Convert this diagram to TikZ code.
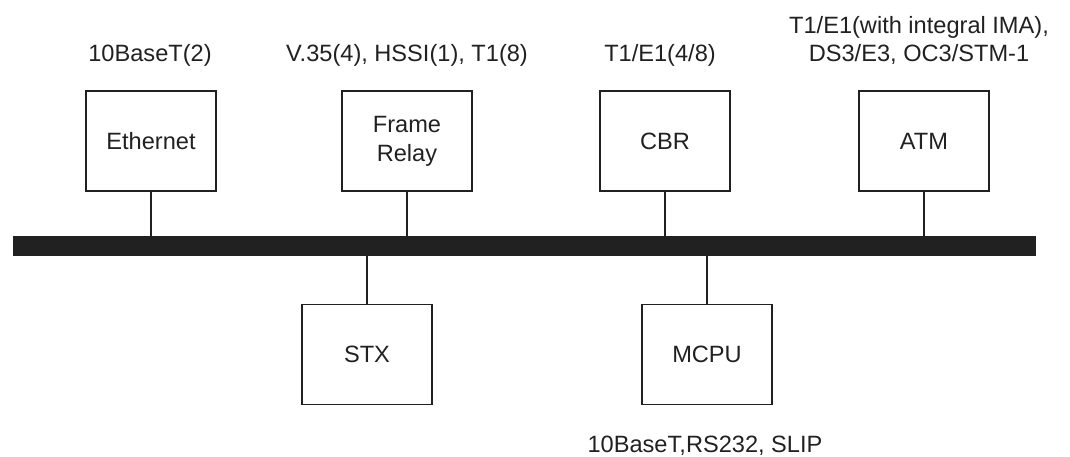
\documentclass[tikz,border=0pt]{standalone}
\usepackage{fontspec}
\setmainfont{Liberation Sans}
\usetikzlibrary{positioning}
\definecolor{ink}{gray}{0.13}
\tikzset{
  card/.style={draw=ink, line width=1.7pt, minimum width=130pt, minimum height=100pt,
    inner sep=0pt, align=center, text=ink, font=\fontsize{23.6}{29}\selectfont},
  port/.style={anchor=base, align=center, inner sep=0pt, text=ink,
    font=\fontsize{23.6}{28}\selectfont},
  tap/.style={draw=ink, line width=1.7pt}
}

\begin{document}
\begin{tikzpicture}[x=1pt,y=-1pt]
\useasboundingbox (0,0) rectangle (1070,457);
% backplane
\node[fill=ink, minimum width=1023pt, minimum height=20pt, inner sep=0pt] (bus) at (524.5,246) {};
% cards above the bus
\node[card] (eth) at (151,141) {Ethernet};
\node[card] (fr) at (407,141) {Frame\\Relay};
\node[card] (cbr) at (665,141) {CBR};
\node[card] (atm) at (924,141) {ATM};
% cards below the bus
\node[card] (stx) at (367,354.5) {STX};
\node[card] (mcpu) at (707,354.5) {MCPU};
% taps onto the backplane
\foreach \c in {eth,fr,cbr,atm} \draw[tap] (\c.south) -- (\c.south |- bus.north);
\foreach \c in {stx,mcpu} \draw[tap] (\c.north) -- (\c.north |- bus.south);
% interfaces (base = last line)
\node[port] (ethif) at (150,61.5) {10BaseT(2)};
\node[port] (frif) at (407,61.5) {V.35(4), HSSI(1), T1(8)};
\node[port] (cbrif) at (660,61.5) {T1/E1(4/8)};
\node[port] (atmif) at (919,61.5) {T1/E1(with integral IMA),\\DS3/E3, OC3/STM-1};
\node[port] (mcpuif) at (705,452.5) {10BaseT,RS232, SLIP};
\end{tikzpicture}
\end{document}
